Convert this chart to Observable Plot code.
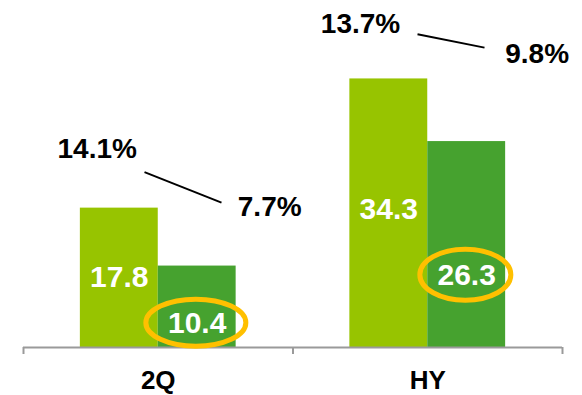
<!DOCTYPE html>
<html>
<head>
<meta charset="utf-8">
<script src="https://cdn.jsdelivr.net/npm/d3@7"></script>
<script src="https://cdn.jsdelivr.net/npm/@observablehq/plot@0.6"></script>
<style>
  html, body { margin: 0; padding: 0; background: #fff; }
  #chart svg { display: block; }
</style>
</head>
<body>
<div id="chart"></div>
<script>
// ---- data ----
const categories = ["2Q", "HY"];
const series1 = [17.8, 34.3];
const series2 = [10.4, 26.3];
const pct1 = ["14.1%", "13.7%"];
const pct2 = ["7.7%", "9.8%"];

// ---- annotation layout (data units; x relative to group index) ----
const barHalf = 0.289;
const label1Y = [8.9, 17.7];
const label2Y = [3.07, 9.2];
const pct1Pos = [{dx: -0.2265, y: 25.3}, {dx: -0.2495, y: 41.34}];
const pct2Pos = [{dx: 0.4135, y: 17.92}, {dx: 0.406, y: 37.5}];
const linkPos = [
  {dx1: -0.051, y1: 22.39, dx2: 0.2347, y2: 18.5},
  {dx1: -0.038, y1: 40.0, dx2: 0.2106, y2: 38.3}
];
const ellipseSize = [{rx: 50, ry: 23.5}, {rx: 45.5, ry: 25.5}];

const rows = categories.map((c, i) => ({
  category: c, i, v1: series1[i], v2: series2[i], p1: pct1[i], p2: pct2[i]
}));

function ellipse(rx, ry) {
  return {
    draw(c) {
      const kx = rx * 0.5523, ky = ry * 0.5523;
      c.moveTo(rx, 0);
      c.bezierCurveTo(rx, ky, kx, ry, 0, ry);
      c.bezierCurveTo(-kx, ry, -rx, ky, -rx, 0);
      c.bezierCurveTo(-rx, -ky, -kx, -ry, 0, -ry);
      c.bezierCurveTo(kx, -ry, rx, -ky, rx, 0);
      c.closePath();
    }
  };
}

const light = "#97C400";
const dark = "#46A22F";
const ring = "#FFC000";
const fontBig = {fontSize: 28, fontWeight: "bold"};

const plot = Plot.plot({
  width: 582,
  height: 395,
  marginTop: 0,
  marginBottom: 48,
  marginLeft: 23,
  marginRight: 20,
  style: {fontFamily: "'Liberation Sans', Arial, sans-serif", background: "#fff"},
  x: {domain: [0, 2], axis: null},
  y: {domain: [0, 347 / 7.83], axis: null},
  marks: [
    Plot.rectY(rows, {x1: d => d.i + 0.5 - barHalf, x2: d => d.i + 0.5, y1: 0, y2: "v1", fill: light}),
    Plot.rectY(rows, {x1: d => d.i + 0.5, x2: d => d.i + 0.5 + barHalf, y1: 0, y2: "v2", fill: dark}),
    Plot.ruleY([0], {stroke: "#9a9a9a", strokeWidth: 2}),
    Plot.axisX({ticks: [0, 1, 2], tickSize: 7, tickFormat: () => "", stroke: "#9a9a9a", strokeWidth: 2}),
    Plot.axisX({ticks: [0.5, 1.5], tickSize: 0, tickPadding: 23, tickFormat: d => categories[Math.floor(d)],
      fontSize: 26, fontWeight: "bold", fill: "#000"}),
    Plot.text(rows, {x: d => d.i + 0.5 - barHalf / 2, y: d => label1Y[d.i], text: d => d.v1.toFixed(1),
      fill: "#fff", fontSize: 30, fontWeight: "bold"}),
    Plot.text(rows, {x: d => d.i + 0.5 + barHalf / 2, y: d => label2Y[d.i], text: d => d.v2.toFixed(1),
      fill: "#fff", fontSize: 30, fontWeight: "bold"}),
    ...rows.map(r => Plot.dot([r], {x: d => d.i + 0.5 + barHalf / 2 - 0.005, y: d => label2Y[d.i] + 0.1,
      symbol: ellipse(ellipseSize[r.i].rx, ellipseSize[r.i].ry), fill: "none", stroke: ring, strokeWidth: 5})),
    Plot.link(rows, {x1: d => d.i + 0.5 + linkPos[d.i].dx1, y1: d => linkPos[d.i].y1,
      x2: d => d.i + 0.5 + linkPos[d.i].dx2, y2: d => linkPos[d.i].y2, stroke: "#000", strokeWidth: 2}),
    Plot.text(rows, {x: d => d.i + 0.5 + pct1Pos[d.i].dx, y: d => pct1Pos[d.i].y, text: "p1", fill: "#000", ...fontBig}),
    Plot.text(rows, {x: d => d.i + 0.5 + pct2Pos[d.i].dx, y: d => pct2Pos[d.i].y, text: "p2", fill: "#000", ...fontBig})
  ]
});
document.getElementById("chart").appendChild(plot);
</script>
</body>
</html>
